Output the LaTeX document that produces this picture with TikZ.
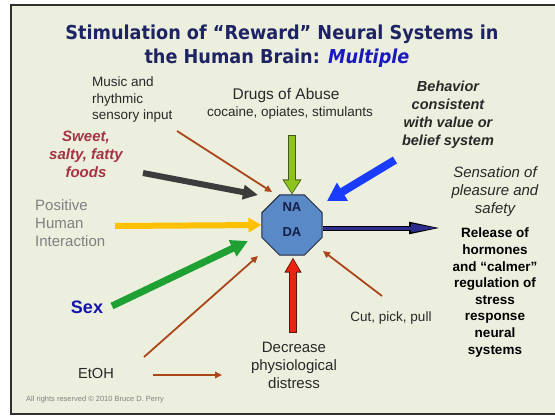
\documentclass[tikz,border=0pt]{standalone}
\usepackage{fontspec}
\usepackage{graphicx}
\setmainfont{Liberation Sans}
\newfontfamily\titlefont{DejaVu Sans}
\usetikzlibrary{shapes.geometric,arrows.meta,calc}
\definecolor{bgc}{RGB}{236,239,222}
\definecolor{framec}{RGB}{48,48,48}
\definecolor{titlec}{RGB}{30,35,100}
\definecolor{multc}{RGB}{25,25,190}
\definecolor{sweetc}{RGB}{165,50,70}
\definecolor{sexc}{RGB}{20,20,170}
\definecolor{grayt}{RGB}{128,128,128}
\definecolor{darkt}{RGB}{40,40,40}
\definecolor{brownc}{RGB}{170,70,25}
\definecolor{limec}{RGB}{140,195,30}
\definecolor{limeo}{RGB}{70,90,20}
\definecolor{bluec}{RGB}{25,60,255}
\definecolor{darkc}{RGB}{60,60,60}
\definecolor{yelc}{RGB}{255,192,0}
\definecolor{greenc}{RGB}{30,160,50}
\definecolor{redc}{RGB}{235,35,15}
\definecolor{redo}{RGB}{90,20,10}
\definecolor{navyc}{RGB}{45,45,140}
\definecolor{octc}{RGB}{90,137,200}
\definecolor{octo}{RGB}{30,40,60}
\definecolor{nadac}{RGB}{20,30,70}
\begin{document}
\begin{tikzpicture}[x=1pt,y=-1pt,
  txt/.style={inner sep=0pt, align=center, text=darkt, font=\fontsize{13.5}{16.5}\selectfont},
  bigtxt/.style={txt, font=\fontsize{15}{18}\selectfont},
  bitxt/.style={txt, font=\fontsize{14.5}{18}\selectfont\bfseries\itshape},
  reltxt/.style={txt, text=black, font=\fontsize{13.5}{16.6}\selectfont\bfseries},
  titletxt/.style={inner sep=0pt, text=titlec, font=\titlefont\fontsize{19.2}{24}\selectfont\bfseries},
  octbox/.style={regular polygon, regular polygon sides=8, minimum size=65pt, inner sep=0pt, fill=octc, draw=octo, line width=1pt},
  nada/.style={inner sep=0pt, text=nadac, font=\fontsize{13}{15}\selectfont\bfseries},
  thin/.style={draw=brownc, line width=1.8pt, -{Triangle[length=7pt,width=6.5pt]}},
  blockarrow/.style n args={4}{line width=#1, -{Triangle[length=#2,width=#3]}, draw=#4}
]
\useasboundingbox (0,0) rectangle (555,416);
\fill[white] (0,0) rectangle (555,416);
\fill[bgc] (11,5) rectangle (570,414);
\draw[framec, line width=2pt] (11,5) rectangle (570,414);

% title
\node[titletxt, anchor=base] (t1) at (282,39) {\scalebox{0.92}[1]{Stimulation of “Reward” Neural Systems in}};
\node[titletxt, anchor=base] (t2) at (277,63) {\scalebox{0.92}[1]{the Human Brain: \textcolor{multc}{\itshape Multiple}}};

% central octagon
\node[octbox] (oct) at (292,225) {};
\node[nada] (na) at (292,207) {NA};
\node[nada] (da) at (292,232) {DA};

% texts
\node[txt, align=left, anchor=west] (music) at (92,100) {Music and\\rhythmic\\sensory input};
\node[txt, font=\fontsize{15.5}{18}\selectfont] (drugs) at (286,95) {Drugs of Abuse};
\node[txt] (coc) at (290,113) {cocaine, opiates, stimulants};
\node[bitxt] (behav) at (448,114.5) {Behavior\\consistent\\with value or\\belief system};
\node[bitxt, text=sweetc, font=\fontsize{15}{18}\selectfont\bfseries\itshape] (sweet) at (86,154.5) {Sweet,\\salty, fatty\\foods};
\node[bigtxt, font=\fontsize{15}{18}\selectfont\itshape] (sens) at (495,191.5) {Sensation of\\pleasure and\\safety};
\node[bigtxt, align=left, anchor=west, text=grayt] (pos) at (35,223) {Positive\\Human\\Interaction};
\node[txt, text=sexc, font=\fontsize{18}{20}\selectfont\bfseries] (sex) at (87,307) {Sex};
\node[txt, font=\fontsize{14.6}{17}\selectfont] (etoh) at (96,373) {EtOH};
\node[bigtxt] (decr) at (294,365.5) {Decrease\\physiological\\distress};
\node[txt] (cut) at (391,318) {Cut, pick, pull};
\node[reltxt] (rel) at (495,292.5) {Release of\\hormones\\and “calmer”\\regulation of\\stress\\response\\neural\\systems};
\node[inner sep=0pt, anchor=west, text=grayt, font=\fontsize{7.5}{9}\selectfont] (copy) at (26,400) {All rights reserved © 2010 Bruce D. Perry};

% arrow end points
\coordinate (musicT) at (177,131);
\coordinate (musicH) at ($(oct.center)+(-20,-33)$);
\coordinate (darkT) at (143,173);
\coordinate (darkH) at ($(oct.center)+(-34,-30)$);
\coordinate (drugT) at (292,135);
\coordinate (blueT) at (395,160);
\coordinate (blueH) at ($(oct.center)+(35,-24)$);
\coordinate (yelT) at (115,226);
\coordinate (sexT) at (112,306);
\coordinate (sexH) at ($(oct.center)+(-44,16)$);
\coordinate (etohT) at (144,357);
\coordinate (etohH) at ($(oct.center)+(-34,31)$);
\coordinate (etoh2T) at (153,375);
\coordinate (etoh2H) at (222,375);
\coordinate (redT) at (293,333);
\coordinate (redH) at ($(oct.south)+(1,2)$);
\coordinate (cutT) at (382,296);
\coordinate (cutH) at ($(oct.center)+(31,26)$);
\coordinate (outS) at ($(oct.east)+(0,3)$);
\coordinate (outH) at (442,228);

% thin brown arrows
\draw[thin] (musicT) -- (musicH);
\draw[thin] (etohT) -- (etohH);
\draw[thin] (etoh2T) -- (etoh2H);
\draw[thin] (cutT) -- (cutH);

% block arrows
\draw[blockarrow={6pt}{15pt}{14pt}{darkc}] (darkT) -- (darkH);
\draw[blockarrow={6pt}{13pt}{14pt}{yelc}] (yelT) -- (oct.west);
\draw[blockarrow={7pt}{17pt}{17pt}{greenc}] (sexT) -- (sexH);
\draw[blockarrow={8pt}{18pt}{20pt}{bluec}] (blueT) -- (blueH);
% outlined arrows
\draw[blockarrow={8pt}{15pt}{18pt}{limeo}] (drugT) -- (oct.north);
\draw[blockarrow={6pt}{13pt}{15pt}{limec}, shorten >=1.2pt] ($(drugT)+(0,1)$) -- (oct.north);
\draw[blockarrow={8pt}{15pt}{16pt}{redo}] (redT) -- (redH);
\draw[blockarrow={6pt}{13pt}{13pt}{redc}, shorten >=1.2pt] ($(redT)+(0,-1)$) -- (redH);
\draw[blockarrow={5pt}{33pt}{11pt}{black}] (outS) -- (outH);
\draw[blockarrow={3pt}{27pt}{8pt}{navyc}, shorten >=4pt] (outS) -- (outH);
\end{tikzpicture}
\end{document}
